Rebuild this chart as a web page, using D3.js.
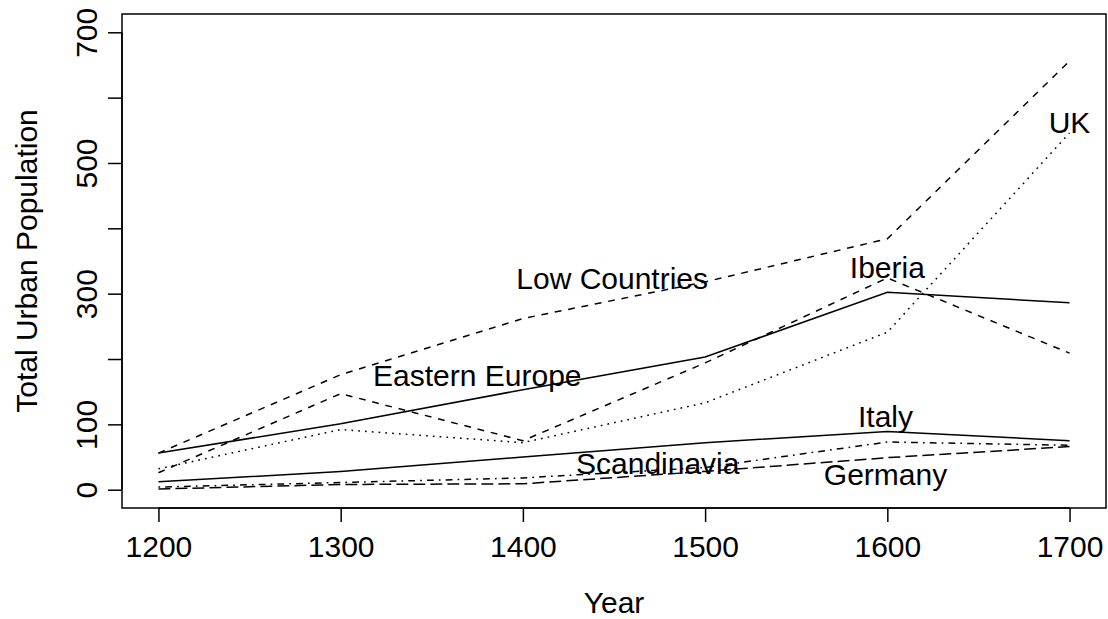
<!DOCTYPE html>
<html>
<head>
<meta charset="utf-8">
<script src="https://cdn.jsdelivr.net/npm/d3@7"></script>
<style>
  body { margin: 0; background: #fff; }
  svg { display: block; font-family: "Liberation Sans", Arial, sans-serif; }
</style>
</head>
<body>
<div id="chart"></div>
<script>
const width = 1108;
const height = 619;

// Données
const years = [1200, 1300, 1400, 1500, 1600, 1700];
const easternEurope = [56, 101, 153, 203, 302, 286];
const lowCountries = [56, 176, 262, 318, 384, 656];
const iberia = [26, 147, 75, 194, 324, 209];
const uk = [32, 92, 72, 133, 241, 546];
const italy = [12, 28, 50, 72, 89, 75];
const scandinavia = [4, 11, 18, 34, 73, 68];
const germany = [1, 8, 9, 28, 49, 66];

const xTicks = [1200, 1300, 1400, 1500, 1600, 1700];
const yTicks = [0, 100, 200, 300, 400, 500, 600, 700];
const yTickLabels = [0, 100, 300, 500, 700];

// Étiquettes placées dans le repère des données (année, valeur)
const labels = [
    { name: "Low Countries", year: 1449, value: 324 },
    { name: "Eastern Europe", year: 1375, value: 175 },
    { name: "Iberia", year: 1600, value: 340 },
    { name: "UK", year: 1700, value: 563 },
    { name: "Italy", year: 1599, value: 113 },
    { name: "Scandinavia", year: 1474, value: 40 },
    { name: "Germany", year: 1599, value: 23 }
];

// Séries avec leur type de trait (cycle lty 1:5 de R)
const u = 1.7;
const series = [
    { name: "Eastern Europe", values: easternEurope, dash: null },
    { name: "Low Countries", values: lowCountries, dash: [4 * u, 4 * u] },
    { name: "UK", values: uk, dash: [1 * u, 3 * u] },
    { name: "Scandinavia", values: scandinavia, dash: [1 * u, 3 * u, 4 * u, 3 * u] },
    { name: "Germany", values: germany, dash: [7 * u, 3 * u] },
    { name: "Italy", values: italy, dash: null },
    { name: "Iberia", values: iberia, dash: [4 * u, 4 * u] }
];

const box = { left: 122, right: 1106, top: 14, bottom: 508 };
const fontSize = 30;

const svg = d3.select("#chart")
    .append("svg")
    .attr("width", width)
    .attr("height", height);

// Échelles (avec la marge de 4 % comme R)
const x = d3.scaleLinear().domain([1180, 1720]).range([box.left, box.right]);
const y = d3.scaleLinear().domain([-28, 728]).range([box.bottom, box.top]);

const line = d3.line()
    .x((d, i) => x(years[i]))
    .y(d => y(d));

// Lignes
svg.selectAll(".serie")
    .data(series)
    .join("path")
    .attr("class", "serie")
    .attr("d", d => line(d.values))
    .attr("fill", "none")
    .attr("stroke", "#000")
    .attr("stroke-width", 1.5)
    .attr("stroke-dasharray", d => d.dash ? d.dash.join(",") : null);

// Étiquettes des séries
svg.selectAll(".label")
    .data(labels)
    .join("text")
    .attr("class", "label")
    .attr("x", d => x(d.year))
    .attr("y", d => y(d.value))
    .attr("dy", "0.36em")
    .attr("text-anchor", "middle")
    .attr("font-size", fontSize)
    .text(d => d.name);

// Cadre
svg.append("rect")
    .attr("x", box.left)
    .attr("y", box.top)
    .attr("width", box.right - box.left)
    .attr("height", box.bottom - box.top)
    .attr("fill", "none")
    .attr("stroke", "#000")
    .attr("stroke-width", 1.5);

// Axe des x
const xAxis = svg.append("g")
    .attr("transform", `translate(0,${box.bottom})`)
    .call(d3.axisBottom(x).tickValues(xTicks).tickSize(14).tickPadding(9).tickFormat(d3.format("d")));
xAxis.select(".domain").attr("d", `M${x(1200)},0H${x(1700)}`);

// Axe des y (toutes les graduations, étiquettes partielles)
const yAxis = svg.append("g")
    .attr("transform", `translate(${box.left},0)`)
    .call(d3.axisLeft(y).tickValues(yTicks).tickSize(14)
        .tickFormat(d => yTickLabels.includes(d) ? d : ""));
yAxis.select(".domain").attr("d", `M0,${y(0)}V${y(700)}`);
yAxis.selectAll(".tick text")
    .attr("transform", "translate(-36,0) rotate(-90)")
    .attr("x", 0)
    .attr("dy", "0.36em")
    .attr("text-anchor", "middle");

svg.selectAll(".tick line, .domain").attr("stroke", "#000").attr("stroke-width", 1.5);
svg.selectAll(".tick text")
    .attr("font-size", fontSize)
    .attr("font-family", "Liberation Sans, Arial, sans-serif")
    .attr("fill", "#000");
xAxis.selectAll(".tick text").attr("dy", "0.85em");

// Titres des axes
svg.append("text")
    .attr("x", (box.left + box.right) / 2)
    .attr("y", 613)
    .attr("text-anchor", "middle")
    .attr("font-size", fontSize)
    .text("Year");

svg.append("text")
    .attr("transform", `translate(37,${(box.top + box.bottom) / 2}) rotate(-90)`)
    .attr("text-anchor", "middle")
    .attr("font-size", fontSize)
    .text("Total Urban Population");
</script>
</body>
</html>
